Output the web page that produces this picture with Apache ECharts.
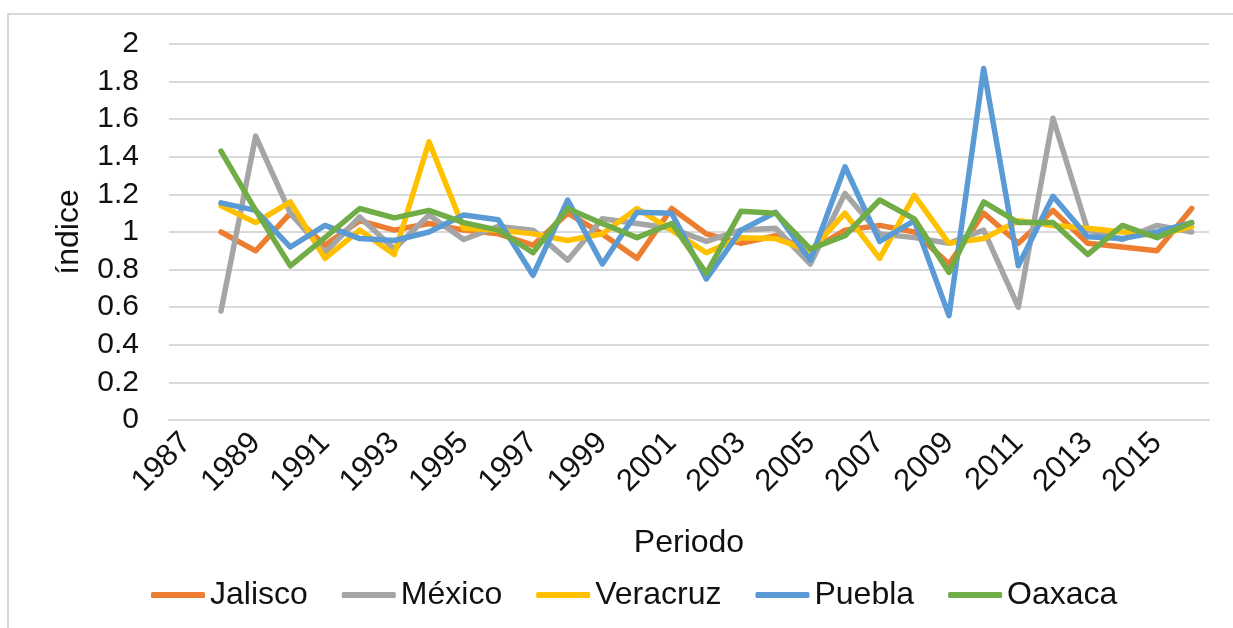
<!DOCTYPE html>
<html>
<head>
<meta charset="utf-8">
<script src="https://cdn.jsdelivr.net/npm/echarts@6/dist/echarts.min.js"></script>
<style>
    html, body { margin: 0; padding: 0; background: #fff; }
    #frame { position: absolute; left: 7px; top: 13px; width: 1240px; height: 640px; border-top: 2px solid #d9d9d9; border-left: 2px solid #d9d9d9; }
    #chart { position: absolute; left: 0; top: 0; width: 1233px; height: 628px; }
</style>
</head>
<body>
<div id="frame"></div>
<div id="chart"></div>
<script>
// years on the x axis (1987 has no value)
const years = []
for (let y = 1987; y <= 2016; y++) years.push(String(y))

const jalisco  = [null, 1.00, 0.90, 1.10, 0.93, 1.06, 1.01, 1.045, 1.01, 0.99, 0.93, 1.10, 0.99, 0.86, 1.125, 0.99, 0.94, 0.98, 0.90, 1.01, 1.035, 1.00, 0.83, 1.10, 0.94, 1.115, 0.94, 0.92, 0.90, 1.125]
const mexico   = [null, 0.58, 1.51, 1.10, 0.89, 1.08, 0.91, 1.09, 0.96, 1.03, 1.01, 0.85, 1.07, 1.045, 1.02, 0.95, 1.01, 1.02, 0.83, 1.205, 0.99, 0.97, 0.94, 1.01, 0.60, 1.605, 1.01, 0.96, 1.035, 1.00]
const veracruz = [null, 1.14, 1.05, 1.16, 0.86, 1.01, 0.88, 1.48, 1.02, 1.01, 0.99, 0.955, 0.99, 1.125, 1.01, 0.89, 0.97, 0.965, 0.90, 1.10, 0.86, 1.195, 0.94, 0.965, 1.06, 1.035, 1.02, 1.00, 0.98, 1.03]
const puebla   = [null, 1.155, 1.115, 0.92, 1.035, 0.965, 0.955, 1.00, 1.09, 1.065, 0.77, 1.17, 0.83, 1.105, 1.10, 0.75, 1.01, 1.105, 0.85, 1.347, 0.95, 1.06, 0.555, 1.87, 0.82, 1.19, 0.975, 0.965, 1.00, 1.05]
const oaxaca   = [null, 1.43, 1.115, 0.82, 0.97, 1.125, 1.075, 1.115, 1.05, 1.01, 0.89, 1.125, 1.045, 0.97, 1.045, 0.78, 1.11, 1.10, 0.91, 0.98, 1.17, 1.07, 0.785, 1.16, 1.05, 1.05, 0.88, 1.035, 0.97, 1.05]

const names  = ['Jalisco', 'México', 'Veracruz', 'Puebla', 'Oaxaca']
const values = [jalisco, mexico, veracruz, puebla, oaxaca]
const colors = ['#ED7D31', '#A5A5A5', '#FFC000', '#5B9BD5', '#70AD47']

const font = 'Liberation Sans, Arial, sans-serif'

let chart = echarts.init(document.querySelector('#chart'))

let option = {
    animation: false,
    color: colors,
    textStyle: { fontFamily: font },
    grid: {
        left: 169,
        right: 24,
        top: 44,
        bottom: 208
    },
    legend: {
        data: names,
        bottom: 12,
        left: 146,
        icon: 'roundRect',
        itemWidth: 54,
        itemHeight: 6,
        itemGap: 34,
        textStyle: { fontSize: 32, color: '#111', fontFamily: font }
    },
    xAxis: {
        type: 'category',
        data: years,
        boundaryGap: true,
        name: 'Periodo',
        nameLocation: 'middle',
        nameGap: 107,
        nameTextStyle: { fontSize: 32, color: '#111' },
        axisLine: { lineStyle: { color: '#d9d9d9', width: 2 } },
        axisTick: { show: false },
        axisLabel: {
            interval: 1,
            rotate: 45,
            margin: 18,
            fontSize: 31,
            color: '#111'
        }
    },
    yAxis: {
        type: 'value',
        min: 0,
        max: 2,
        interval: 0.2,
        name: 'índice',
        nameLocation: 'middle',
        nameRotate: 90,
        nameGap: 84,
        nameTextStyle: { fontSize: 32, color: '#111' },
        axisLine: { show: false },
        axisTick: { show: false },
        axisLabel: {
            margin: 30,
            fontSize: 30,
            color: '#111',
            formatter: (v) => String(+v.toFixed(1))
        },
        splitLine: { lineStyle: { color: '#d9d9d9', width: 2 } }
    },
    series: names.map((name, i) => ({
        name: name,
        type: 'line',
        data: values[i],
        symbol: 'none',
        lineStyle: { width: 5.5, color: colors[i], cap: 'round', join: 'round' },
        itemStyle: { color: colors[i] }
    }))
}

chart.setOption(option)
</script>
</body>
</html>
